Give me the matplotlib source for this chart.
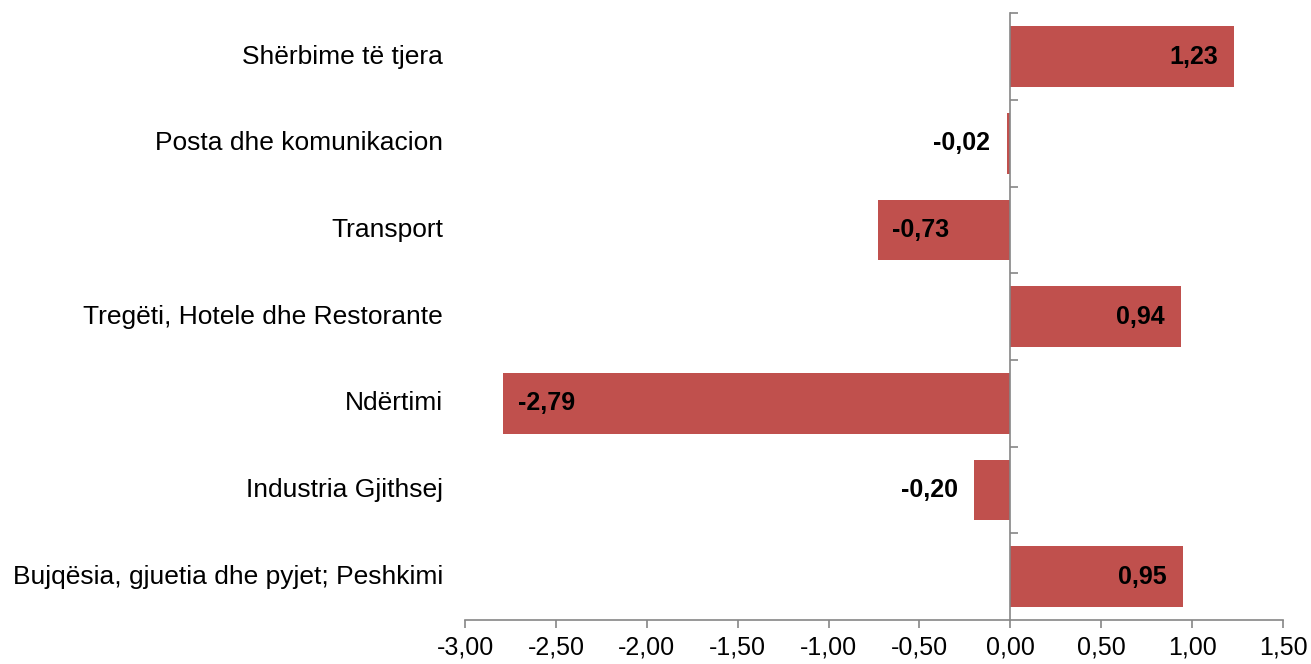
import matplotlib.pyplot as plt
from matplotlib.ticker import FuncFormatter
import matplotlib.transforms as mtransforms

# --- Data ---
categories = [
    "Bujqësia, gjuetia dhe pyjet; Peshkimi",
    "Industria Gjithsej",
    "Ndërtimi",
    "Tregëti, Hotele dhe Restorante",
    "Transport",
    "Posta dhe komunikacion",
    "Shërbime të tjera",
]
values = [0.95, -0.20, -2.79, 0.94, -0.73, -0.02, 1.23]
value_labels = ["0,95", "-0,20", "-2,79", "0,94", "-0,73", "-0,02", "1,23"]

plt.rcParams["font.family"] = ["Liberation Sans", "DejaVu Sans"]

bar_color = "#C0504D"
axis_color = "#868686"

fig = plt.figure(figsize=(13.11, 6.64), dpi=100)
ax = fig.add_axes([0.3547, 0.0663, 0.6240, 0.9137])

pos = list(range(len(categories)))
ax.barh(pos, values, height=0.70, color=bar_color)

ax.set_xlim(-3.0, 1.5)
ax.set_ylim(-0.5, len(categories) - 0.5)
ax.set_xticks([-3.0 + 0.5 * i for i in range(10)])
ax.xaxis.set_major_formatter(FuncFormatter(lambda v, p: f"{v:.2f}".replace(".", ",")))
ax.tick_params(axis="x", labelsize=18, colors=axis_color, labelcolor="black",
               length=6, width=1.2, direction="out", pad=5)

# --- Spines: bottom axis and vertical axis at zero ---
for s in ["top", "right"]:
    ax.spines[s].set_visible(False)
ax.spines["bottom"].set_color(axis_color)
ax.spines["bottom"].set_linewidth(1.2)
ax.spines["left"].set_position(("data", 0))
ax.spines["left"].set_color(axis_color)
ax.spines["left"].set_linewidth(1.2)
ax.set_yticks([p + 0.5 for p in pos])
ax.set_yticklabels([])
ax.tick_params(axis="y", direction="in", length=6, width=1.2, colors=axis_color)

# --- Category labels on the left ---
trans = mtransforms.blended_transform_factory(ax.transAxes, ax.transData)
for p, c in zip(pos, categories):
    ax.text(-0.027, p, c, transform=trans, ha="right", va="center", fontsize=19)

# --- Value labels ---
for p, v, lab in zip(pos, values, value_labels):
    if abs(v) < 0.5 or v > 0:
        ax.text(v - 0.09, p, lab, ha="right", va="center", fontsize=18, fontweight="bold")
    else:
        ax.text(v + 0.08, p, lab, ha="left", va="center", fontsize=18, fontweight="bold")

fig.savefig("out.png", dpi=100)
plt.close(fig)
